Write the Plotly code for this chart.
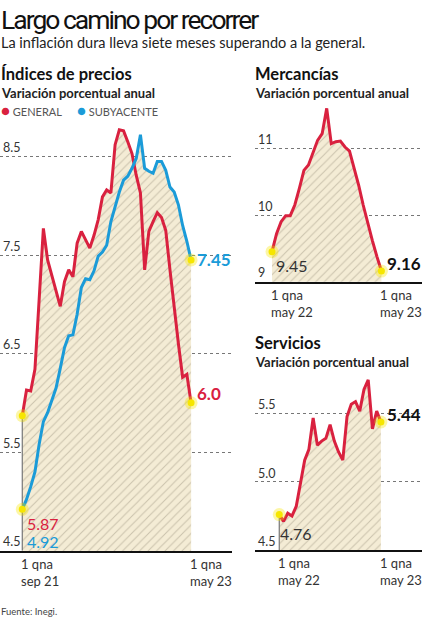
import plotly.graph_objects as go

W, H = 422, 620

# valores (variación % anual, por quincena)
general = [5.87, 6.13, 6.12, 6.34, 7.05, 7.77, 7.45, 7.30, 7.13, 6.98,
           7.23, 7.35, 7.28, 7.62, 7.74, 7.66, 7.57, 7.70, 7.86, 8.09,
           8.16, 8.13, 8.62, 8.77, 8.76, 8.65, 8.53, 8.31, 8.13, 7.35,
           7.74, 7.84, 7.93, 7.88, 7.75, 7.35, 6.95, 6.60, 6.26, 6.29, 6.00]
subyacente = [4.92, 5.02, 5.15, 5.30, 5.58, 5.81, 5.90, 6.02, 6.15, 6.35,
              6.56, 6.68, 6.69, 6.90, 7.17, 7.26, 7.25, 7.34, 7.49, 7.53,
              7.60, 7.84, 7.99, 8.14, 8.26, 8.30, 8.38, 8.48, 8.72, 8.38,
              8.35, 8.33, 8.45, 8.45, 8.36, 8.19, 8.14, 8.01, 7.80, 7.64, 7.45]
mercancias = [9.45, 9.72, 9.90, 9.99, 9.99, 10.15, 10.40, 10.67, 10.75, 10.93,
              11.12, 11.22, 11.60, 11.07, 11.10, 11.11, 11.02, 10.96, 10.72, 10.45,
              10.15, 9.87, 9.62, 9.38, 9.16]
servicios = [4.76, 4.71, 4.77, 4.75, 4.82, 4.99, 5.16, 5.24, 5.47, 5.27,
             5.30, 5.32, 5.42, 5.30, 5.22, 5.16, 5.48, 5.57, 5.59, 5.52,
             5.68, 5.75, 5.39, 5.52, 5.44]

main_xticks = ["1 qna<br>sep 21", "1 qna<br>may 23"]
side_xticks = ["1 qna<br>may 22", "1 qna<br>may 23"]

RED = "#d9213f"
BLUE = "#1b9bd8"
YELLOW = "#f6e600"
FONT = "Lato"
PATTERN = dict(shape="/", bgcolor="#f4ecd5", fgcolor="#a39a86", size=6, solidity=0.18)


def px(x, y):
    return x / W, 1 - y / H


def add_area(fig, values, xa, ya):
    fig.add_trace(go.Scatter(x=list(range(len(values))), y=values, mode="lines",
                             line=dict(width=0), fill="tozeroy", fillpattern=PATTERN,
                             fillcolor="#f4ecd5", hoverinfo="skip", xaxis=xa, yaxis=ya))


def add_line(fig, values, color, xa, ya):
    fig.add_trace(go.Scatter(x=list(range(len(values))), y=values, mode="lines",
                             line=dict(color=color, width=3), xaxis=xa, yaxis=ya))


def add_dots(fig, xs, ys, xa, ya):
    fig.add_trace(go.Scatter(x=xs, y=ys, mode="markers",
                             marker=dict(size=13, color="rgba(246,230,0,0.35)"),
                             xaxis=xa, yaxis=ya, hoverinfo="skip"))
    fig.add_trace(go.Scatter(x=xs, y=ys, mode="markers",
                             marker=dict(size=7, color=YELLOW),
                             xaxis=xa, yaxis=ya, hoverinfo="skip"))


def add_stem(fig, value, base, xa, ya):
    fig.add_trace(go.Scatter(x=[0, 0], y=[base, value], mode="lines",
                             line=dict(color="#777", width=1.2), xaxis=xa, yaxis=ya,
                             hoverinfo="skip"))


fig = go.Figure()

# Índices de precios
add_area(fig, general, "x", "y")
add_area(fig, subyacente, "x", "y")
add_stem(fig, general[0], 4.5, "x", "y")
add_line(fig, general, RED, "x", "y")
add_line(fig, subyacente, BLUE, "x", "y")
n = len(general) - 1
add_dots(fig, [0, 0, n, n], [general[0], subyacente[0], general[-1], subyacente[-1]], "x", "y")

# Mercancías
add_area(fig, mercancias, "x2", "y2")
add_line(fig, mercancias, RED, "x2", "y2")
m = len(mercancias) - 1
add_dots(fig, [0, m], [mercancias[0], mercancias[-1]], "x2", "y2")

# Servicios
add_area(fig, servicios, "x3", "y3")
add_stem(fig, servicios[0], 4.5, "x3", "y3")
add_line(fig, servicios, RED, "x3", "y3")
s = len(servicios) - 1
add_dots(fig, [0, s], [servicios[0], servicios[-1]], "x3", "y3")

xcommon = dict(showgrid=False, zeroline=False, showline=True, linecolor="#111",
               linewidth=1.5, ticks="", showticklabels=False, fixedrange=True)
ycommon = dict(showgrid=True, gridcolor="#777", griddash="dot", gridwidth=1,
               zeroline=False, showline=False, ticks="", ticklabelposition="inside top",
               tickfont=dict(family=FONT, size=12.5, color="#333"), fixedrange=True)

fig.update_layout(
    width=W, height=H, autosize=False,
    margin=dict(l=0, r=0, t=0, b=0),
    paper_bgcolor="white", plot_bgcolor="rgba(0,0,0,0)",
    showlegend=False,
    xaxis=dict(xcommon, domain=[0, 232 / W], range=[-5.28, 49.7], anchor="y"),
    yaxis=dict(ycommon, domain=[1 - 550.7 / H, 1 - 122 / H], range=[4.5, 8.85],
               tick0=4.5, dtick=1, tickformat=".1f", anchor="x"),
    xaxis2=dict(xcommon, domain=[255 / W, 1], range=[-3.73, 32.9], anchor="y2"),
    yaxis2=dict(ycommon, domain=[1 - 281.7 / H, 1 - 105 / H], range=[9, 11.65],
                tick0=9, dtick=1, anchor="x2"),
    xaxis3=dict(xcommon, domain=[255 / W, 1], range=[-5.73, 33.7], anchor="y3"),
    yaxis3=dict(ycommon, domain=[1 - 550 / H, 1 - 373 / H], range=[4.5, 5.8],
                tick0=4.5, dtick=0.5, tickformat=".1f", anchor="x3"),
)


def note(text, x, y, size, color="#222", bold=False, family=FONT):
    if bold:
        text = "<b>" + text + "</b>"
    xp, yp = px(x, y)
    fig.add_annotation(text=text, x=xp, y=yp, xref="paper", yref="paper",
                       xanchor="left", yanchor="middle", showarrow=False,
                       font=dict(family=family, size=size, color=color))


note("<span style='letter-spacing:-2px'>Largo camino por recorrer</span>",
     -1, 20, 26.5, color="#111", family="Roboto")
note("La inflación dura lleva siete meses superando a la general.", -1, 43, 14.5)
note("Índices de precios", -1, 74, 16.5, bold=True, color="#111")
note("Variación porcentual anual", -1, 93, 13, bold=True)
note(f"<span style='color:{RED};font-size:15px'>●</span> GENERAL", -1, 110, 11, color="#555")
note(f"<span style='color:{BLUE};font-size:15px'>●</span> SUBYACENTE", 75, 110, 11, color="#555")
note("Mercancías", 253, 74, 16.5, bold=True, color="#111")
note("Variación porcentual anual", 253, 93, 13, bold=True)
note("Servicios", 253, 343, 16.5, bold=True, color="#111")
note("Variación porcentual anual", 253, 362, 13, bold=True)
note("Fuente: Inegi.", -1, 611, 9.5, color="#444")

# etiquetas de valores iniciales
note(f"{general[0]:.2f}", 25, 523, 16, color=RED)
note(f"{subyacente[0]:.2f}", 25, 541, 16, color=BLUE)
note(f"{mercancias[0]:.2f}", 274, 265, 16, color="#333")
note(f"{servicios[0]:.2f}", 278, 533, 16, color="#333")


def end_label(text, x, y, xa, ya, color, yshift):
    fig.add_annotation(text="<b>" + text + "</b>", x=x, y=y, xref=xa, yref=ya,
                       xanchor="left", yanchor="middle", xshift=4, yshift=yshift,
                       showarrow=False, font=dict(family=FONT, size=17, color=color))


end_label(f"{subyacente[-1]:.2f}", n, subyacente[-1], "x", "y", BLUE, 0)
end_label(f"{general[-1]:.1f}", n, general[-1], "x", "y", RED, 9)
end_label(f"{mercancias[-1]:.2f}", m, mercancias[-1], "x2", "y2", "#111", 8)
end_label(f"{servicios[-1]:.2f}", s, servicios[-1], "x3", "y3", "#111", 8)


# etiquetas del eje x, alineadas a la izquierda del punto
def xlabels(ticks, last, xa, ya):
    for pos, txt in zip([0, last], ticks):
        fig.add_annotation(text=txt, x=pos, y=0, xref=xa, yref=ya + " domain",
                           xanchor="left", yanchor="top", align="left", xshift=-3,
                           yshift=-3, showarrow=False,
                           font=dict(family=FONT, size=13, color="#333"))


xlabels(main_xticks, n, "x", "y")
xlabels(side_xticks, m, "x2", "y2")
xlabels(side_xticks, s, "x3", "y3")

fig.write_html("out.html", config={"displayModeBar": False},
               post_script="document.body.style.margin='0';")
